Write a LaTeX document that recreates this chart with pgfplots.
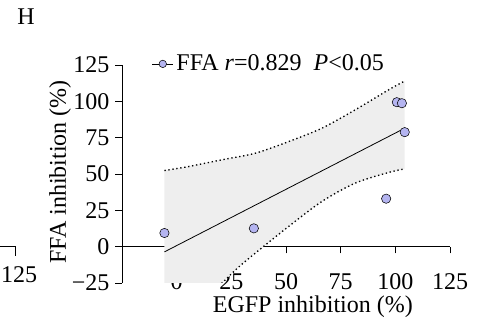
\documentclass[border=0pt]{standalone}
\usepackage{pgfplots}
\pgfplotsset{compat=1.18}
\usepackage{fontspec}
\setmainfont{Liberation Serif}
\definecolor{ptcol}{HTML}{B4B4F0}
\definecolor{bandcol}{HTML}{EEEEEE}
\begin{document}
\begin{tikzpicture}[font=\fontsize{18}{21}\selectfont]
\useasboundingbox (0,0) rectangle (360.75pt,242.25pt);
% fragment of neighbouring panel
\draw[line width=0.6pt] (0,57.75pt) -- (11.5pt,57.75pt) -- (11.5pt,50.5pt);
\node[anchor=base west, inner sep=0pt] at (0.6pt,30pt) {125};
\node[anchor=center, inner sep=0pt] at (19.5pt,229.5pt) {H};
\begin{axis}[
  at={(91.5pt,30pt)}, anchor=south west,
  scale only axis, width=246pt, height=163.5pt,
  xmin=-25, xmax=125, ymin=-25, ymax=125,
  axis x line=middle, axis y line=left,
  axis line style={-, line width=0.6pt},
  every tick/.style={black, line width=0.6pt},
  major tick length=5pt,
  xtick align=outside, ytick align=outside,
  xtick={0,25,50,75,100,125},
  ytick={-25,0,25,50,75,100,125},
  yticklabels={−25,0,25,50,75,100,125},
  hide obscured x ticks=false, hide obscured y ticks=false,
  /pgf/number format/assume math mode=true,
  xticklabel style={anchor=base, yshift=-27pt},
  yticklabel style={anchor=east, xshift=-1pt},
  xlabel={EGFP inhibition (\%)},
  ylabel={FFA inhibition (\%)},
  xlabel style={at={(rel axis cs:0.582,0)}, anchor=base, yshift=-22.5pt},
  ylabel style={at={(rel axis cs:0,0.51)}, anchor=center, yshift=46.5pt},
  legend style={draw=none, fill=none, at={(rel axis cs:0.09,1.005)}, anchor=west, inner sep=0pt},
  legend cell align=left,
  clip=true,
]
\addplot[fill=bandcol, draw=none, forget plot] coordinates {
 (-5.6,52.4) (5,55) (20.8,59.8) (36,64.3) (51.2,72.3) (66.4,81.5) (81.6,94.1) (96.8,107.8) (104.3,114)
 (104.3,53.5) (96.8,51.0) (81.6,43.7) (66.4,31.1) (51.2,13.9) (36,-4.4) (28,-14.5) (20.8,-25) (12,-38) (5,-48) (-5.6,-64)
} -- cycle;
\addplot[black, line width=1pt, dotted, forget plot, smooth] coordinates {
 (-5.6,52.4) (5,55) (20.8,59.8) (36,64.3) (51.2,72.3) (66.4,81.5) (81.6,94.1) (96.8,107.8) (104.3,114)
};
\addplot[black, line width=1pt, dotted, forget plot, smooth] coordinates {
 (-5.6,-64) (5,-48) (12,-38) (20.8,-25) (28,-14.5) (36,-4.4) (51.2,13.9) (66.4,31.1) (81.6,43.7) (96.8,51.0) (104.3,53.5)
};
\addplot[black, line width=0.6pt, forget plot] coordinates {(-5.6,-3.6) (104.3,81.5)};
\addplot[only marks, mark=*, mark size=3.5pt, mark options={fill=ptcol, draw=black, line width=0.4pt},
  legend image code/.code={\draw[black, line width=0.5pt] (0pt,0pt) -- (16pt,0pt); \draw[black, line width=0.4pt, fill=ptcol] (8pt,0pt) circle (2.8pt);}]
 table {
x y
-5.6 9.4
35.3 12.6
95.8 33.0
100.7 99.4
103.0 98.7
104.3 78.8
};
\addlegendentry{FFA \textit{r}=0.829\ \ \textit{P}<0.05}
\end{axis}
\end{tikzpicture}
\end{document}
